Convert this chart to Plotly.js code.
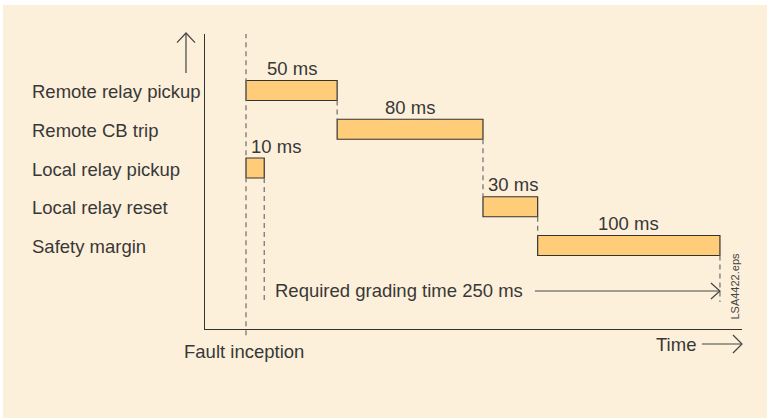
<!DOCTYPE html>
<html>
<head>
<meta charset="utf-8">
<script src="https://cdn.plot.ly/plotly-3.0.1.min.js"></script>
<style>html,body{margin:0;padding:0;background:#fff;}#chart{width:767px;height:418px;}</style>
</head>
<body>
<div id="chart"></div>
<script>
// ---- data ----
var stages = ["Remote relay pickup", "Remote CB trip", "Local relay pickup", "Local relay reset", "Safety margin"];
var startMs = [0, 50, 0, 130, 160];
var durationMs = [50, 80, 10, 30, 100];
var durationLabels = ["50 ms", "80 ms", "10 ms", "30 ms", "100 ms"];
var gradingStart = 10;
var gradingEnd = 260;
var gradingLabel = "Required grading time 250 ms";

// ---- style ----
var FONT = "Liberation Sans, Arial, sans-serif";
var FS = 18.5;
var TXT = "#383838";
var BAR = "#FFCC7A";
var BG = "#FDF0DA";
var DASH = "#777777";
var barH = 0.516;
var gradY = 5.174;
var dashBottom = 5.458;

var idx = stages.map(function (s, i) { return i; });

var shapes = [];
// beige background panel
shapes.push({type: "rect", xref: "paper", yref: "paper", x0: -0.3762, x1: 1.05, y0: -0.31, y1: 1.0983,
  fillcolor: BG, line: {width: 0}, layer: "below"});
// fault inception dashed line
shapes.push({type: "line", xref: "x", yref: "paper", x0: 0, x1: 0, y0: -0.021, y1: 1,
  line: {color: DASH, width: 1.3, dash: "5px,4px"}});
// connectors between bars
for (var j = 0; j < stages.length; j++) {
  var end = startMs[j] + durationMs[j];
  var k = -1;
  for (var m = 0; m < stages.length; m++) { if (m > j && startMs[m] === end) { k = m; break; } }
  var yTop = idx[j] + barH / 2;
  var yBot = k >= 0 ? idx[k] - barH / 2 : dashBottom;
  if (k < 0 && end !== gradingStart && end !== gradingEnd) continue;
  shapes.push({type: "line", xref: "x", yref: "y", x0: end, x1: end, y0: yTop, y1: yBot,
    line: {color: DASH, width: 1.3, dash: "5px,4px"}});
}
// grading time arrow
shapes.push({type: "line", xref: "x", yref: "y", x0: 158.5, x1: gradingEnd, y0: gradY, y1: gradY,
  line: {color: "#444", width: 1.2}});
shapes.push({type: "path", xref: "x", yref: "y",
  path: "M " + (gradingEnd - 4.94) + "," + (gradY - 0.206) + " L " + gradingEnd + "," + gradY + " L " + (gradingEnd - 4.94) + "," + (gradY + 0.206),
  line: {color: "#444", width: 1.2}});
// up arrow
shapes.push({type: "line", xref: "paper", yref: "paper", x0: -0.0354, x1: -0.0354, y0: 0.8678, y1: 1.0034,
  line: {color: "#444", width: 1.2}});
shapes.push({type: "path", xref: "paper", yref: "paper",
  path: "M -0.0521,0.9705 L -0.0354,1.0034 L -0.0186,0.9705", line: {color: "#444", width: 1.2}});
// time arrow
shapes.push({type: "line", xref: "paper", yref: "paper", x0: 0.9255, x1: 1.0, y0: -0.0508, y1: -0.0508,
  line: {color: "#444", width: 1.2}});
shapes.push({type: "path", xref: "paper", yref: "paper",
  path: "M 0.9832,-0.0203 L 1.0,-0.0508 L 0.9832,-0.0814", line: {color: "#444", width: 1.2}});

var annotations = [];
stages.forEach(function (s, i) {
  annotations.push({xref: "paper", yref: "y", x: -0.3222, y: idx[i], text: s, showarrow: false,
    xanchor: "left", yanchor: "middle", xshift: -2, yshift: -1, font: {family: FONT, size: FS, color: TXT}});
  var narrow = durationMs[i] <= 30;
  annotations.push({xref: "x", yref: "y",
    x: narrow ? startMs[i] : startMs[i] + durationMs[i] / 2, y: idx[i], text: durationLabels[i],
    showarrow: false, xanchor: narrow ? "left" : "center", yanchor: "middle",
    xshift: narrow ? 3 : 0, yshift: 22, font: {family: FONT, size: FS, color: TXT}});
});
annotations.push({xref: "x", yref: "y", x: gradingStart, y: gradY, text: gradingLabel, showarrow: false,
  xanchor: "left", yanchor: "middle", xshift: 9, font: {family: FONT, size: FS, color: TXT}});
annotations.push({xref: "x", yref: "paper", x: 0, y: -0.0746, text: "Fault inception", showarrow: false,
  xanchor: "center", yanchor: "middle", xshift: -2, font: {family: FONT, size: FS, color: TXT}});
annotations.push({xref: "paper", yref: "paper", x: 0.877, y: -0.0542, text: "Time", showarrow: false,
  xanchor: "center", yanchor: "middle", font: {family: FONT, size: FS, color: TXT}});
annotations.push({xref: "paper", yref: "paper", x: 0.987, y: 0.144, text: "LSA4422.eps", showarrow: false,
  textangle: -90, xanchor: "center", yanchor: "middle", font: {family: FONT, size: 11, color: "#444"}});

var trace = {
  type: "bar", orientation: "h", y: idx, x: durationMs, base: startMs, width: barH,
  marker: {color: BAR, line: {color: "#333", width: 1.2}}, hoverinfo: "none", showlegend: false
};

var layout = {
  width: 767, height: 418,
  margin: {l: 205, r: 25, t: 34, b: 89, pad: 0},
  paper_bgcolor: "#ffffff", plot_bgcolor: "rgba(0,0,0,0)",
  xaxis: {range: [-22.5, 272.1], showgrid: false, zeroline: false, showticklabels: false, ticks: "",
    showline: true, linecolor: "#333", linewidth: 1.2, fixedrange: true},
  yaxis: {range: [6.155, -1.458], showgrid: false, zeroline: false, showticklabels: false, ticks: "",
    showline: true, linecolor: "#333", linewidth: 1.2, fixedrange: true},
  shapes: shapes, annotations: annotations, showlegend: false
};

Plotly.newPlot("chart", [trace], layout, {displayModeBar: false, staticPlot: true});
</script>
</body>
</html>
